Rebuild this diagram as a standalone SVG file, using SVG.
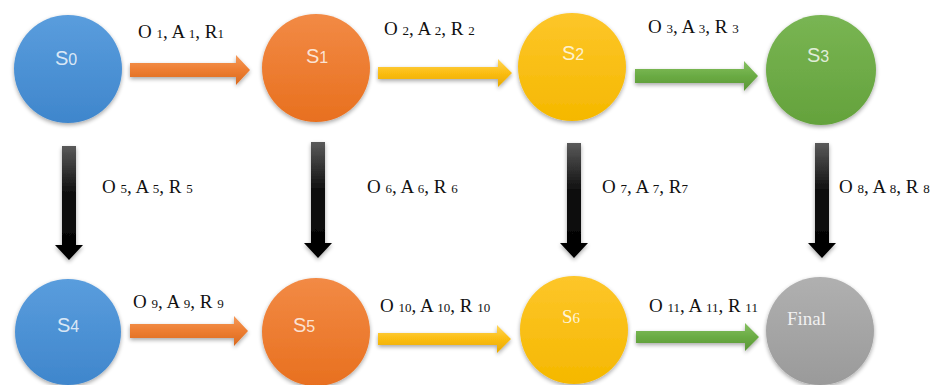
<svg xmlns="http://www.w3.org/2000/svg" width="948" height="385" viewBox="0 0 948 385">
<style>
.lbl{font-family:"Liberation Serif","Times New Roman",serif;font-size:19px;fill:#111}
.sub{font-size:13px}
.nt{font-family:"Liberation Sans",Arial,sans-serif;font-size:20px;fill:#fff;fill-opacity:0.8}
.ns{font-size:16px}
.nts{font-family:"Liberation Serif","Times New Roman",serif;font-size:19px;fill:#fff;fill-opacity:0.85}
</style>
<defs>
<linearGradient id="gBlue" x1="0" y1="0" x2="0" y2="1"><stop offset="0" stop-color="#5a9ddd"/><stop offset="1" stop-color="#3f86cc"/></linearGradient>
<linearGradient id="gOrange" x1="0" y1="0" x2="0" y2="1"><stop offset="0" stop-color="#f28a45"/><stop offset="1" stop-color="#e8701f"/></linearGradient>
<linearGradient id="gYellow" x1="0" y1="0" x2="0" y2="1"><stop offset="0" stop-color="#fdc62a"/><stop offset="1" stop-color="#f5b800"/></linearGradient>
<linearGradient id="gGreen" x1="0" y1="0" x2="0" y2="1"><stop offset="0" stop-color="#79b553"/><stop offset="1" stop-color="#64a23c"/></linearGradient>
<linearGradient id="gGray" x1="0" y1="0" x2="0" y2="1"><stop offset="0" stop-color="#b0b0b0"/><stop offset="1" stop-color="#9a9a9a"/></linearGradient>
<linearGradient id="aBlack" x1="0" y1="0" x2="0" y2="1"><stop offset="0" stop-color="#5a5a5a"/><stop offset="0.4" stop-color="#111"/><stop offset="1" stop-color="#000"/></linearGradient>
<linearGradient id="aOrange" x1="0" y1="0" x2="0" y2="1"><stop offset="0" stop-color="#f59a5a"/><stop offset="0.5" stop-color="#ed7d31"/><stop offset="1" stop-color="#d96a20"/></linearGradient>
<linearGradient id="aYellow" x1="0" y1="0" x2="0" y2="1"><stop offset="0" stop-color="#ffd65a"/><stop offset="0.5" stop-color="#fbbd12"/><stop offset="1" stop-color="#e6a800"/></linearGradient>
<linearGradient id="aGreen" x1="0" y1="0" x2="0" y2="1"><stop offset="0" stop-color="#86c062"/><stop offset="0.5" stop-color="#6aab43"/><stop offset="1" stop-color="#5a9636"/></linearGradient>
<filter id="sh" x="-20%" y="-20%" width="140%" height="140%"><feGaussianBlur in="SourceAlpha" stdDeviation="2"/><feOffset dx="0" dy="1.5"/><feComponentTransfer><feFuncA type="linear" slope="0.35"/></feComponentTransfer><feMerge><feMergeNode/><feMergeNode in="SourceGraphic"/></feMerge></filter>
</defs>
<rect width="948" height="385" fill="#fff"/>

<g id="connectors">
  <g filter="url(#sh)">
  <polygon fill="url(#aOrange)" points="130,63 236,63 236,55 250,70 236,85 236,77 130,77"/>
  <polygon fill="url(#aYellow)" points="378,67 498,67 498,59 512,73 498,87 498,79 378,79"/>
  <polygon fill="url(#aGreen)" points="635,69 744,69 744,61 758,76 744,91 744,83 635,83"/>
  <polygon fill="url(#aBlack)" points="62,146 76,146 76,245 83,245 69,260 55,245 62,245"/>
  <polygon fill="url(#aBlack)" points="311,142 325,142 325,243 332,243 318,258 304,243 311,243"/>
  <polygon fill="url(#aBlack)" points="567,143 581,143 581,243 588,243 574,258 560,243 567,243"/>
  <polygon fill="url(#aBlack)" points="815,143 829,143 829,243 836,243 822,258 808,243 815,243"/>
  <polygon fill="url(#aOrange)" points="130,324 234,324 234,316 248,331 234,346 234,338 130,338"/>
  <polygon fill="url(#aYellow)" points="378,333 497,333 497,325 511,339 497,353 497,345 378,345"/>
  <polygon fill="url(#aGreen)" points="636,331 745,331 745,323 759,337 745,351 745,343 636,343"/>
  </g>
  <text class="lbl" x="138" y="38">O <tspan class="sub">1</tspan>, A <tspan class="sub">1</tspan>, R<tspan class="sub">1</tspan></text>
  <text class="lbl" x="384" y="35">O <tspan class="sub">2</tspan>, A <tspan class="sub">2</tspan>, R <tspan class="sub">2</tspan></text>
  <text class="lbl" x="648" y="33">O <tspan class="sub">3</tspan>, A <tspan class="sub">3</tspan>, R <tspan class="sub">3</tspan></text>
  <text class="lbl" x="102" y="193">O <tspan class="sub">5</tspan>, A <tspan class="sub">5</tspan>, R <tspan class="sub">5</tspan></text>
  <text class="lbl" x="367" y="193">O <tspan class="sub">6</tspan>, A <tspan class="sub">6</tspan>, R <tspan class="sub">6</tspan></text>
  <text class="lbl" x="602" y="193">O <tspan class="sub">7</tspan>, A <tspan class="sub">7</tspan>, R<tspan class="sub">7</tspan></text>
  <text class="lbl" x="839" y="193">O <tspan class="sub">8</tspan>, A <tspan class="sub">8</tspan>, R <tspan class="sub">8</tspan></text>
  <text class="lbl" x="133" y="308">O <tspan class="sub">9</tspan>, A <tspan class="sub">9</tspan>, R <tspan class="sub">9</tspan></text>
  <text class="lbl" x="380" y="312">O <tspan class="sub">10</tspan>, A <tspan class="sub">10</tspan>, R <tspan class="sub">10</tspan></text>
  <text class="lbl" x="649" y="312">O <tspan class="sub">11</tspan>, A <tspan class="sub">11</tspan>, R <tspan class="sub">11</tspan></text>
</g>

<g id="s0"><circle cx="68" cy="69" r="54" fill="url(#gBlue)" filter="url(#sh)"/><text class="nt" x="55" y="65">S<tspan class="ns">0</tspan></text></g>
<g id="s1"><circle cx="316" cy="68" r="54" fill="url(#gOrange)" filter="url(#sh)"/><text class="nt" x="306" y="63">S<tspan class="ns">1</tspan></text></g>
<g id="s2"><circle cx="572" cy="67" r="54" fill="url(#gYellow)" filter="url(#sh)"/><text class="nt" x="562" y="60">S<tspan class="ns">2</tspan></text></g>
<g id="s3"><circle cx="821" cy="70" r="55" fill="url(#gGreen)" filter="url(#sh)"/><text class="nt" x="807" y="62">S<tspan class="ns">3</tspan></text></g>
<g id="s4"><circle cx="68" cy="332" r="53" fill="url(#gBlue)" filter="url(#sh)"/><text class="nt" x="57" y="332">S<tspan class="ns">4</tspan></text></g>
<g id="s5"><circle cx="316" cy="332" r="54" fill="url(#gOrange)" filter="url(#sh)"/><text class="nt" x="293" y="332">S<tspan class="ns">5</tspan></text></g>
<g id="s6"><circle cx="574" cy="330" r="54" fill="url(#gYellow)" filter="url(#sh)"/><text class="nts" x="562" y="323">S<tspan font-size="15">6</tspan></text></g>
<g id="final"><circle cx="820" cy="331" r="54" fill="url(#gGray)" filter="url(#sh)"/><text class="nts" x="787" y="325">Final</text></g>
</svg>
